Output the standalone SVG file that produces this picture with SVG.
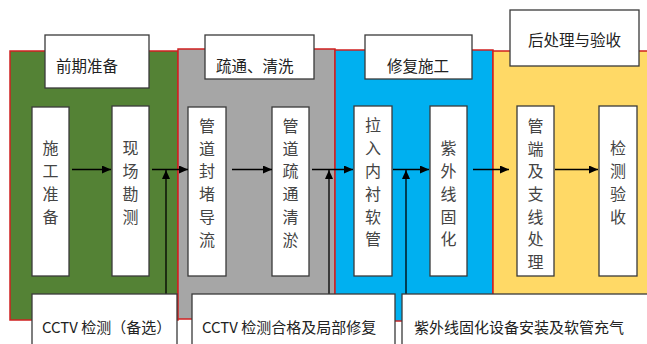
<svg xmlns="http://www.w3.org/2000/svg" width="647" height="344" viewBox="0 0 647 344">
<style>
.panel{stroke:#d02020;stroke-width:1.5}
.box{fill:#fff;stroke:#3a3a3a;stroke-width:1.3}
.t{font-family:"Noto Sans CJK SC","Noto Sans",sans-serif;fill:#222}
.title{font-size:15.5px}
.v{font-size:16px;fill:#444;text-anchor:middle;dominant-baseline:central}
.lab{font-size:15px}
.c{stroke:#000;stroke-width:1.3;fill:none}
</style>
<defs>
<marker id="ah" markerWidth="9" markerHeight="8" refX="9" refY="4" orient="auto" markerUnits="userSpaceOnUse">
<path d="M0,0 L9,4 L0,8 Z" fill="#000"/>
</marker>
</defs>
<rect width="647" height="344" fill="#fff"/>
<g id="stage1">
<rect class="panel" x="10" y="51" width="168" height="269" fill="#548235"/>
</g>
<g id="stage2">
<rect class="panel" x="178" y="49" width="157" height="270" fill="#a6a6a6"/>
</g>
<g id="stage3">
<rect class="panel" x="335" y="50" width="158" height="271" fill="#00b0f0"/>
</g>
<g id="stage4">
<rect class="panel" x="493" y="51" width="160" height="250" fill="#ffd966"/>
</g>
<g id="title1"><rect class="box" x="45" y="35" width="104" height="53"/><text class="t title" x="56" y="72">前期准备</text></g>
<g id="title2"><rect class="box" x="205" y="35" width="109" height="44"/><text class="t title" x="216" y="72">疏通、清洗</text></g>
<g id="title3"><rect class="box" x="365" y="35" width="107" height="44"/><text class="t title" x="387" y="72">修复施工</text></g>
<g id="title4"><rect class="box" x="510" y="10" width="129" height="56"/><text class="t title" x="528" y="46">后处理与验收</text></g>
<g id="n1"><rect class="box" x="32" y="107" width="37" height="169"/>
<text class="t v" x="50.5"><tspan x="50.5" y="147">施</tspan><tspan x="50.5" y="170">工</tspan><tspan x="50.5" y="193">准</tspan><tspan x="50.5" y="216">备</tspan></text></g>
<g id="n2"><rect class="box" x="112" y="106" width="37" height="170"/>
<text class="t v"><tspan x="130.5" y="147">现</tspan><tspan x="130.5" y="170">场</tspan><tspan x="130.5" y="193">勘</tspan><tspan x="130.5" y="216">测</tspan></text></g>
<g id="n3"><rect class="box" x="188" y="107" width="38" height="169"/>
<text class="t v"><tspan x="207" y="125">管</tspan><tspan x="207" y="147.5">道</tspan><tspan x="207" y="170">封</tspan><tspan x="207" y="193">堵</tspan><tspan x="207" y="216">导</tspan><tspan x="207" y="239">流</tspan></text></g>
<g id="n4"><rect class="box" x="272" y="107" width="37" height="169"/>
<text class="t v"><tspan x="290.5" y="125">管</tspan><tspan x="290.5" y="147.5">道</tspan><tspan x="290.5" y="170">疏</tspan><tspan x="290.5" y="193">通</tspan><tspan x="290.5" y="216">清</tspan><tspan x="290.5" y="239">淤</tspan></text></g>
<g id="n5"><rect class="box" x="354" y="106" width="38" height="170"/>
<text class="t v"><tspan x="373" y="124">拉</tspan><tspan x="373" y="147">入</tspan><tspan x="373" y="169.5">内</tspan><tspan x="373" y="193">衬</tspan><tspan x="373" y="215.5">软</tspan><tspan x="373" y="238">管</tspan></text></g>
<g id="n6"><rect class="box" x="430" y="106" width="37" height="170"/>
<text class="t v"><tspan x="448.5" y="147">紫</tspan><tspan x="448.5" y="170">外</tspan><tspan x="448.5" y="193">线</tspan><tspan x="448.5" y="215.5">固</tspan><tspan x="448.5" y="238">化</tspan></text></g>
<g id="n7"><rect class="box" x="517" y="106" width="37" height="170"/>
<text class="t v"><tspan x="535.5" y="125">管</tspan><tspan x="535.5" y="147.5">端</tspan><tspan x="535.5" y="170">及</tspan><tspan x="535.5" y="193">支</tspan><tspan x="535.5" y="215.5">线</tspan><tspan x="535.5" y="238">处</tspan><tspan x="535.5" y="260.5">理</tspan></text></g>
<g id="n8"><rect class="box" x="599" y="106" width="38" height="170"/>
<text class="t v"><tspan x="618" y="147">检</tspan><tspan x="618" y="170">测</tspan><tspan x="618" y="193">验</tspan><tspan x="618" y="215.5">收</tspan></text></g>
<g id="connectors">
<line class="c" x1="72" y1="169.5" x2="111" y2="169.5" marker-end="url(#ah)"/>
<line class="c" x1="152" y1="169.5" x2="188" y2="169.5" marker-end="url(#ah)"/>
<line class="c" x1="232" y1="169.5" x2="272" y2="169.5" marker-end="url(#ah)"/>
<line class="c" x1="312" y1="169.5" x2="353" y2="169.5" marker-end="url(#ah)"/>
<line class="c" x1="393" y1="169.5" x2="429" y2="169.5" marker-end="url(#ah)"/>
<line class="c" x1="473" y1="169.5" x2="509" y2="169.5" marker-end="url(#ah)"/>
<line class="c" x1="555" y1="169.5" x2="598" y2="169.5" marker-end="url(#ah)"/>
<line class="c" x1="166" y1="294" x2="166" y2="170" marker-end="url(#ah)"/>
<line class="c" x1="329" y1="294" x2="329" y2="170" marker-end="url(#ah)"/>
<line class="c" x1="406" y1="294" x2="406" y2="170" marker-end="url(#ah)"/>
</g>
<g id="l1"><rect class="box" x="32" y="294" width="145" height="60"/><text class="t lab" x="42" y="333">CCTV 检测（备选）</text></g>
<g id="l2"><rect class="box" x="192" y="294" width="203" height="60"/><text class="t lab" x="202" y="333">CCTV 检测合格及局部修复</text></g>
<g id="l3"><rect class="box" x="402" y="294" width="260" height="60"/><text class="t lab" x="414" y="333">紫外线固化设备安装及软管充气</text></g>
</svg>
